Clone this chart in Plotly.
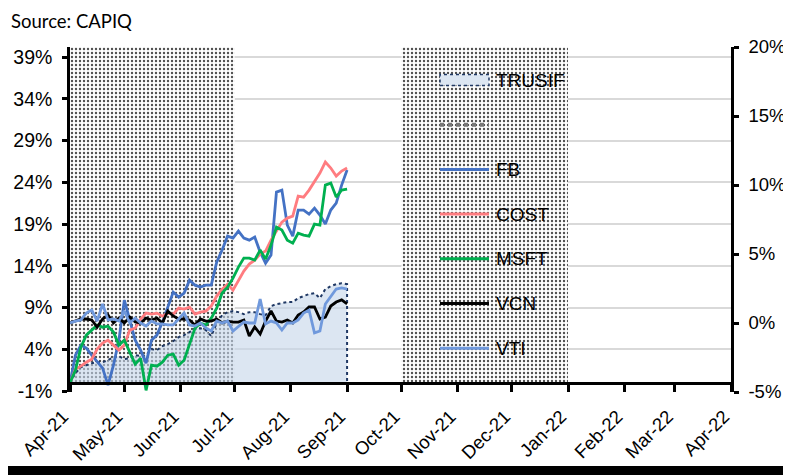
import pandas as pd
import plotly.graph_objects as go

# ---------------- data (percent returns, sampled every 3 days) ----------------
dates = pd.date_range("2021-04-01", "2021-09-01", freq="3D")

trusif = [0, 1.16, 1.87, 2.11, 2.35, 2.47, 2.47, 2.71, 3.07, 3.19,
          2.83, 2.95, 3.31, 3.19, 3.31, 4.03, 3.91, 4.39, 4.63, 4.99,
          5.47, 5.71, 6.07, 6.54, 6.54, 6.31, 5.59, 7.14, 8.10, 8.46,
          8.58, 8.46, 8.22, 8.46, 8.46, 8.22, 8.10, 9.18, 9.42, 9.54,
          9.66, 9.66, 10.14, 10.38, 10.62, 10.74, 10.14, 11.22, 11.57, 11.81,
          11.93, 11.81]
fb = [0, 3.31, 4.51, 4.15, 3.31, 2.47, 1.75, -0.28, 2.11, 5.11,
      9.90, 7.50, 5.11, 3.91, 2.35, 5.11, 5.71, 7.26, 8.94, 10.86,
      10.26, 10.74, 12.29, 11.69, 11.46, 11.69, 11.69, 14.45, 15.89, 17.56,
      17.32, 18.16, 17.32, 17.08, 17.44, 15.65, 14.33, 15.29, 22.83, 23.07,
      18.88, 17.56, 20.68, 20.68, 20.20, 20.92, 20.08, 19.0, 20.68, 21.51,
      23.67, 25.47]
cost = [0, 1.63, 1.99, 2.47, 2.83, 4.03, 4.75, 5.11, 4.51, 3.91,
        4.51, 6.31, 6.54, 7.62, 8.34, 8.22, 8.34, 7.98, 8.34, 8.22,
        8.94, 8.82, 9.06, 8.22, 8.46, 8.58, 9.18, 10.38, 11.22, 11.81,
        11.10, 12.29, 13.37, 14.21, 14.69, 15.41, 15.77, 17.08, 18.16, 19.24,
        19.72, 19.96, 22.35, 22.23, 23.07, 24.03, 25.11, 26.43, 25.71, 24.75,
        25.35, 25.71]
msft = [0, 1.51, 4.27, 5.71, 6.31, 6.90, 6.66, 6.78, 6.07, 4.51,
        5.11, 3.67, 2.23, 2.95, -0.9, 2.11, 1.99, 2.47, 3.31, 3.43,
        2.11, 2.71, 4.51, 6.54, 7.14, 6.90, 7.74, 8.94, 10.74, 11.46,
        12.53, 13.85, 14.93, 14.93, 14.69, 15.89, 14.81, 16.49, 18.64, 18.28,
        17.08, 16.72, 17.92, 17.68, 17.56, 19.0, 18.88, 23.67, 23.91, 22.23,
        23.07, 23.19]
vcn = [0, 0.14, 0.29, 0.29, 0.22, -0.29, 0.29, 0.58, 0, 0.36,
       0, 0.43, 0.07, 0, 0.36, 0.22, 0.36, 0, 0.87, 0.51,
       0.29, 0.29, 0.22, -0.14, 0.29, 0.14, 0.14, 0.29, 0, 0.14,
       0.07, 0.07, 0.22, -0.94, -0.29, -0.80, 0.14, 0.87, 0.14, 0.07,
       0.22, 0, 0.58, 0.80, 1.16, 1.16, 0.29, 0.43, 1.23, 1.52,
       1.67, 1.38]
vti = [0, 0.14, 0.22, 0.72, 0.94, 0.14, 1.38, 0.22, 0.29, 0.14,
       0.87, 0, 0.36, 0, -0.22, 0.14, -0.07, -0.07, -0.14, -0.14,
       0.29, 0.72, -0.14, -0.22, 0, -0.36, -0.58, 0.14, 0, 0.14,
       -0.58, -0.22, 0.07, 0, 0, 1.74, -0.07, 0.14, 0, -0.51,
       0, 0, 0.22, 0.72, 0.94, -0.72, -0.58, 1.38, 1.88, 2.46,
       2.54, 2.46]

# shaded periods
band_starts = ["2021-04-01", "2021-10-01"]
band_ends = ["2021-07-01", "2022-01-01"]

# axes
left_ticks = [-1, 4, 9, 14, 19, 24, 29, 34, 39]
left_labels = ["-1%", "4%", "9%", "14%", "19%", "24%", "29%", "34%", "39%"]
right_ticks = [-5, 0, 5, 10, 15, 20]
right_labels = ["-5%", "0%", "5%", "10%", "15%", "20%"]
LEFT_RANGE = [-1.1, 40.2]
RIGHT_RANGE = [-5, 20]

FONT = "Liberation Sans"
C_TRUSIF_LINE = "#1F3864"

fig = go.Figure()

# hatched bands
bx, by = [], []
for s, e in zip(band_starts, band_ends):
    bx += [s, s, e, e, s, None]
    by += [0, LEFT_RANGE[1], LEFT_RANGE[1], 0, 0, None]
fig.add_trace(go.Scatter(
    x=bx, y=by, mode="lines", fill="toself", name=" ",
    line=dict(width=0, color="rgba(0,0,0,0)"),
    fillcolor="rgba(0,0,0,0)",
    fillpattern=dict(shape=".", fgcolor="#505050", bgcolor="#ffffff",
                     size=4, solidity=0.27, fillmode="replace"),
    hoverinfo="skip"))

# TRUSIF area (closed to zero at the right end)
tx = list(dates) + [dates[-1]]
ty = list(trusif) + [0]
fig.add_trace(go.Scatter(
    x=tx, y=ty, mode="lines", fill="tozeroy", name="TRUSIF",
    line=dict(color=C_TRUSIF_LINE, width=2, dash="dot"),
    fillcolor="rgba(197,213,233,0.6)"))

series = [("FB", fb, "#4472C4", "y"), ("COST", cost, "#FF7C80", "y"),
          ("MSFT", msft, "#00B050", "y"), ("VCN", vcn, "#000000", "y2"),
          ("VTI", vti, "#7099DC", "y2")]
for name, vals, col, ax in series:
    fig.add_trace(go.Scatter(
        x=dates, y=vals, mode="lines", name=name, yaxis=ax,
        line=dict(color=col, width=2.8)))

fig.update_layout(
    width=783, height=467,
    margin=dict(l=62, r=60, t=39, b=83),
    paper_bgcolor="white", plot_bgcolor="white",
    font=dict(family=FONT, size=18, color="#000"),
    showlegend=False,
    xaxis=dict(type="date", range=["2021-04-01", "2022-04-01"],
               tick0="2021-04-01", dtick="M1", tickformat="%b-%y",
               tickangle=-45, showgrid=False, automargin=False,
               showline=True, linecolor="#000", linewidth=2.5,
               ticks="outside", ticklen=7, tickwidth=2.5, tickcolor="#000",
               ticklabelstandoff=7, ticklabelshift=-7,
               anchor="free", position=(0 - LEFT_RANGE[0]) / (LEFT_RANGE[1] - LEFT_RANGE[0]),
               tickfont=dict(size=18.5, family=FONT)),
    yaxis=dict(range=LEFT_RANGE, tickvals=left_ticks, ticktext=left_labels,
               showgrid=True, gridcolor="#D9D9D9", gridwidth=2, zeroline=False,
               showline=True, linecolor="#000", linewidth=2.5, automargin=False,
               ticks="outside", ticklen=5, tickwidth=2.5, tickcolor="#000",
               ticklabelstandoff=6,
               tickfont=dict(size=19.5, family=FONT)),
    yaxis2=dict(range=RIGHT_RANGE, tickvals=right_ticks, ticktext=right_labels,
                overlaying="y", side="right", showgrid=False, zeroline=False,
                showline=True, linecolor="#000", linewidth=2.5, automargin=False,
                ticks="outside", ticklen=5, tickwidth=2.5, tickcolor="#000",
                ticklabelstandoff=6,
                tickfont=dict(size=18.5, family=FONT)),
)

# ---------------- manual legend (inside the second hatched band area) ----------------
PLOT_H = 467 - 39 - 83
PLOT_W = 783 - 62 - 60
def py(fig_px):  # figure pixel row -> paper y
    return (467 - 83 - fig_px) / PLOT_H
def px(fig_px):  # figure pixel column -> paper x
    return (fig_px - 62) / PLOT_W

legend_names = ["TRUSIF", "", "FB", "COST", "MSFT", "VCN", "VTI"]
leg_x0, leg_x1, leg_tx = px(432), px(481), px(486)
leg_row0, leg_step = 72, 44.7
for k, name in enumerate(legend_names):
    yc = py(leg_row0 + k * leg_step)
    if k == 0:
        fig.add_shape(type="rect", xref="paper", yref="paper",
                      x0=leg_x0, x1=leg_x1, y0=yc - 5.5 / PLOT_H, y1=yc + 5.5 / PLOT_H,
                      fillcolor="#DCE6F2",
                      line=dict(color=C_TRUSIF_LINE, width=1.5, dash="dot"))
    elif k == 1:
        fig.add_shape(type="line", xref="paper", yref="paper",
                      x0=leg_x0, x1=leg_x1, y0=yc, y1=yc,
                      line=dict(color="#777777", width=4, dash="dot"))
    else:
        col = series[k - 2][2]
        fig.add_shape(type="line", xref="paper", yref="paper",
                      x0=leg_x0, x1=leg_x1, y0=yc, y1=yc,
                      line=dict(color=col, width=3))
    if name:
        fig.add_annotation(text=name, xref="paper", yref="paper",
                           x=leg_tx, y=yc, xanchor="left", yanchor="middle",
                           showarrow=False, font=dict(family=FONT, size=19, color="#000"))

# bottom frame bar and source
fig.add_shape(type="rect", xref="paper", yref="paper",
              x0=-0.2, x1=px(775), y0=py(470), y1=py(458),
              fillcolor="#000", line=dict(width=0), layer="above")
fig.add_annotation(text="Source: CAPIQ", xref="paper", yref="paper",
                   x=px(1), y=py(0), xanchor="left", yanchor="top",
                   showarrow=False, font=dict(family="Lato", size=18.5, color="#000"))

fig.write_html("out.html")
